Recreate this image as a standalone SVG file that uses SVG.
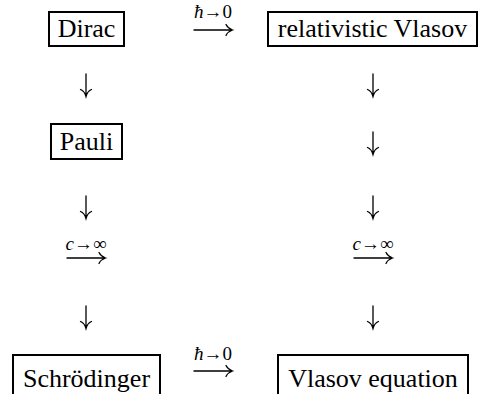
<svg xmlns="http://www.w3.org/2000/svg" width="480" height="394" viewBox="0 0 480 394">
<defs>
<style>
.box{fill:#fff;stroke:#000;stroke-width:2}
.t{font-family:'Liberation Serif','Times New Roman','DejaVu Serif',serif;font-size:26px;fill:#000;text-anchor:middle}
.lab{font-family:'Liberation Serif','Times New Roman','DejaVu Serif',serif;font-size:19px;fill:#000;text-anchor:middle}
.it{font-style:italic}
.ln{fill:none;stroke:#000;stroke-width:1.3;stroke-linecap:round}
</style>
<g id="down">
<path class="ln" d="M0 0 V22 M-5.5 15.5 Q-1.5 17 0 22.5 Q1.5 17 5.5 15.5"/>
</g>
<g id="right">
<path class="ln" d="M0 0 H38 M32 -5.5 Q34 -1.5 38.5 0 Q34 1.5 32 5.5"/>
</g>
</defs>
<rect width="480" height="394" fill="#fff"/>
<g id="dirac"><rect class="box" x="49" y="12" width="75" height="34"/><text class="t" x="86.5" y="37" font-family="Liberation Serif, serif">Dirac</text></g>
<g id="relativistic-vlasov"><rect class="box" x="268" y="12" width="209" height="34"/><text class="t" x="372.5" y="37" font-family="Liberation Serif, serif">relativistic Vlasov</text></g>
<g id="pauli"><rect class="box" x="51" y="124" width="71" height="35"/><text class="t" x="86.5" y="150" font-family="Liberation Serif, serif">Pauli</text></g>
<g id="schrodinger"><rect class="box" x="13" y="355" width="147" height="50"/><text class="t" x="86.5" y="387" font-family="Liberation Serif, serif">Schrödinger</text></g>
<g id="vlasov-equation"><rect class="box" x="278" y="355" width="190" height="50"/><text class="t" x="373" y="387" font-family="Liberation Serif, serif">Vlasov equation</text></g>
<g id="connectors">
<use href="#right" x="194" y="30"/>
<text class="lab" x="213" y="18"><tspan class="it">ħ</tspan>→0</text>
<use href="#right" x="194" y="371"/>
<text class="lab" x="213" y="360"><tspan class="it">ħ</tspan>→0</text>
<use href="#down" x="86" y="74"/>
<use href="#down" x="373" y="74"/>
<use href="#down" x="373" y="132"/>
<use href="#down" x="86" y="196"/>
<use href="#down" x="373" y="196"/>
<text class="lab" x="86" y="250"><tspan class="it">c</tspan>→∞</text>
<use href="#right" x="67" y="258"/>
<text class="lab" x="373" y="250"><tspan class="it">c</tspan>→∞</text>
<use href="#right" x="354" y="258"/>
<use href="#down" x="86" y="306"/>
<use href="#down" x="373" y="306"/>
</g>
</svg>
